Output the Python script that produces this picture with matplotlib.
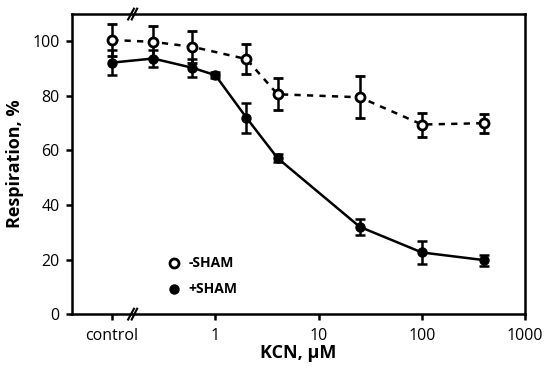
import numpy as np
import matplotlib.pyplot as plt

plt.rcParams['font.family'] = ['Open Sans', 'DejaVu Sans']

# KCN concentration (uM); "control" is drawn at 0.1 on the log axis
x_open = [0.1, 0.25, 0.6, 2, 4, 25, 100, 400]
y_open = [100.5, 99.8, 98, 93.5, 80.6, 79.5, 69.5, 70]
e_open = [6, 6, 5.8, 5.5, 5.8, 7.7, 4.4, 3.5]

x_fill = [0.1, 0.25, 0.6, 1, 2, 4, 25, 100, 400]
y_fill = [92.2, 93.7, 90.3, 87.6, 72, 57.2, 32, 22.6, 19.8]
e_fill = [4.5, 3, 3.3, 1.2, 5.5, 1.5, 3, 4.2, 2]

xticks = [0.1, 1, 10, 100, 1000]
xticklabels = ['control', '1', '10', '100', '1000']
yticks = [0, 20, 40, 60, 80, 100]

fig = plt.figure(figsize=(5.5, 3.7), dpi=100)
ax = fig.add_axes([0.131, 0.151, 0.824, 0.811])

ax.errorbar(x_open, y_open, yerr=e_open, color='black', ls=(0, (2.5, 2.5)), lw=1.8,
            marker='o', ms=6.5, mfc='white', mec='black', mew=2,
            capsize=3.5, elinewidth=1.8, capthick=1.8, zorder=3)
ax.errorbar(x_fill, y_fill, yerr=e_fill, color='black', ls='-', lw=1.8,
            marker='o', ms=6.5, mfc='black', mec='black',
            capsize=3.5, elinewidth=1.8, capthick=1.8, zorder=4)

ax.set_xscale('log')
ax.set_xlim(0.041, 1000)
ax.set_ylim(0, 110)
ax.set_xticks(xticks)
ax.set_xticklabels(xticklabels)
ax.xaxis.set_minor_locator(plt.NullLocator())
ax.set_yticks(yticks)
ax.tick_params(direction='out', length=4, width=1.8, labelsize=11.5)
ax.tick_params(axis='x', pad=6)
ax.tick_params(axis='y', pad=5)

for s in ax.spines.values():
    s.set_linewidth(1.8)

ax.set_xlabel('KCN, \u03bcM', fontsize=13, fontweight='bold', labelpad=0)
ax.set_ylabel('Respiration, %', fontsize=13, fontweight='bold', labelpad=6)

# axis break marks
for yb in [0, 1]:
    for dx in [-0.012, 0.0]:
        ax.plot([0.155 + dx, 0.175 + dx], [yb - 0.018, yb + 0.018],
                transform=ax.get_xaxis_transform(), color='black', lw=1.5,
                clip_on=False, zorder=5)

# legend
ax.plot([0.4], [18.7], marker='o', ms=6.5, mfc='white', mec='black', mew=2, ls='none')
ax.plot([0.4], [9.2], marker='o', ms=6.5, mfc='black', mec='black', ls='none')
ax.text(0.55, 18.7, '-SHAM', fontsize=10, fontweight='bold', va='center')
ax.text(0.55, 9.2, '+SHAM', fontsize=10, fontweight='bold', va='center')

fig.savefig('out.png', dpi=100)
